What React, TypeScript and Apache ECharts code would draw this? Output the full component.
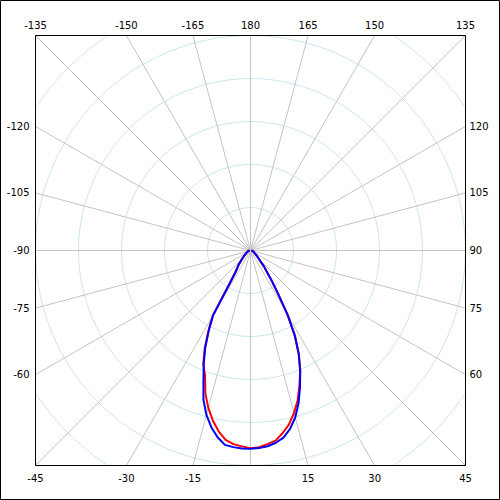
import React, { useEffect, useRef } from "react";
import * as echarts from "echarts";

// Angles (degrees, 0 = straight down, positive = right)
const angles = [
  -90, -75, -60, -50, -45, -40, -35, -32.5, -30, -27.5, -25, -22.5, -20, -17.5, -15, -12.5, -10, -7.5, -5, -2.5,
  0,
  2.5, 5, 7.5, 10, 12.5, 15, 17.5, 20, 22.5, 25, 27.5, 30, 32.5, 35, 40, 45, 50, 60, 75, 90,
];

const redValues = [
  2, 6, 12, 20, 29, 44, 62, 90, 177, 213, 252, 287, 309, 349, 379, 405, 427, 444, 452, 456,
  460,
  458, 452, 446, 431, 414, 391, 365, 333, 302, 266, 224, 174, 119, 87, 49, 28, 19, 10, 6, 2,
];

const blueValues = [
  2, 6, 10, 19, 27, 42, 59, 86, 174, 210, 249, 284, 320, 364, 396, 421, 441, 456, 459, 461,
  461,
  460, 457, 451, 442, 425, 402, 372, 337, 302, 265, 223, 172, 119, 86, 49, 27, 19, 10, 6, 2,
];

const topLabels = [-135, -150, -165, 180, 165, 150, 135];
const leftLabels = [-120, -105, -90, -75, -60];
const rightLabels = [120, 105, 90, 75, 60];
const bottomLabels = [-45, -30, -15, 15, 30, 45];

const ringStep = 100;
const halfBoxUnits = 500;
const radiusMax = 710;

export default function App() {
  const ref = useRef<HTMLDivElement>(null);

  useEffect(() => {
    const chart = echarts.init(ref.current!, null, { renderer: "svg" });
    const cx = 250.5;
    const cy = 250.5;
    const halfPx = 215;
    const pxPerUnit = halfPx / halfBoxUnits;

    chart.setOption({
      animation: false,
      backgroundColor: "#ffffff",
      polar: { center: [cx, cy], radius: radiusMax * pxPerUnit },
      angleAxis: {
        type: "value",
        min: -180,
        max: 180,
        interval: 15,
        startAngle: 90,
        clockwise: false,
        axisLine: { show: false },
        axisTick: { show: false },
        axisLabel: { show: false },
        splitLine: { show: true, lineStyle: { color: "#c4c4c4", width: 1 } },
      },
      radiusAxis: {
        type: "value",
        min: 0,
        max: radiusMax,
        interval: ringStep,
        axisLine: { show: false },
        axisTick: { show: false },
        axisLabel: { show: false },
        splitLine: { show: true, lineStyle: { color: "#cce6ee", width: 1 } },
      },
      series: [
        {
          name: "C0-C180",
          type: "line",
          coordinateSystem: "polar",
          showSymbol: false,
          symbol: "none",
          lineStyle: { color: "#ff0000", width: 2 },
          itemStyle: { color: "#ff0000" },
          data: angles.map((a, i) => [redValues[i], a]),
          z: 3,
        },
        {
          name: "C90-C270",
          type: "line",
          coordinateSystem: "polar",
          showSymbol: false,
          symbol: "none",
          lineStyle: { color: "#0000ff", width: 2 },
          itemStyle: { color: "#0000ff" },
          data: angles.map((a, i) => [blueValues[i], a]),
          z: 4,
        },
      ],
    });

    const toPx = (r: number, a: number): number[] => {
      const p = chart.convertToPixel({ seriesIndex: 0 }, [r, a]) as any;
      if (p && isFinite(p[0]) && isFinite(p[1])) return p;
      const rad = (a * Math.PI) / 180;
      return [cx + r * pxPerUnit * Math.sin(rad), cy + r * pxPerUnit * Math.cos(rad)];
    };

    const font = { fontFamily: "DejaVu Sans", fontSize: 10, fill: "#000" };
    const labels: any[] = [];
    topLabels.forEach((a) => {
      const rad = (a * Math.PI) / 180;
      const p = toPx(halfBoxUnits / Math.abs(Math.cos(rad)), a);
      labels.push({ type: "text", z: 120, x: p[0], y: 25.5, style: { ...font, text: String(a), align: "center", verticalAlign: "middle" } });
    });
    bottomLabels.forEach((a) => {
      const rad = (a * Math.PI) / 180;
      const p = toPx(halfBoxUnits / Math.abs(Math.cos(rad)), a);
      labels.push({ type: "text", z: 120, x: p[0], y: 478, style: { ...font, text: String(a), align: "center", verticalAlign: "middle" } });
    });
    leftLabels.forEach((a) => {
      const rad = (a * Math.PI) / 180;
      const p = toPx(halfBoxUnits / Math.abs(Math.sin(rad)), a);
      labels.push({ type: "text", z: 120, x: 29.5, y: p[1], style: { ...font, text: String(a), align: "right", verticalAlign: "middle" } });
    });
    rightLabels.forEach((a) => {
      const rad = (a * Math.PI) / 180;
      const p = toPx(halfBoxUnits / Math.abs(Math.sin(rad)), a);
      labels.push({ type: "text", z: 120, x: 469.5, y: p[1], style: { ...font, text: String(a), align: "left", verticalAlign: "middle" } });
    });

    const white = { fill: "#ffffff", stroke: "none" };
    chart.setOption({
      graphic: [
        { type: "rect", z: 100, shape: { x: 0, y: 0, width: 500, height: 35 }, style: white, silent: true },
        { type: "rect", z: 100, shape: { x: 0, y: 466, width: 500, height: 34 }, style: white, silent: true },
        { type: "rect", z: 100, shape: { x: 0, y: 0, width: 35, height: 500 }, style: white, silent: true },
        { type: "rect", z: 100, shape: { x: 466, y: 0, width: 34, height: 500 }, style: white, silent: true },
        { type: "rect", z: 110, shape: { x: 35.5, y: 35.5, width: 430, height: 430 }, style: { fill: "none", stroke: "#000", lineWidth: 1 }, silent: true },
        { type: "rect", z: 110, shape: { x: 0.5, y: 0.5, width: 499, height: 499 }, style: { fill: "none", stroke: "#000", lineWidth: 1 }, silent: true },
        ...labels,
      ],
    });

    return () => chart.dispose();
  }, []);

  return <div ref={ref} style={{ position: "absolute", left: 0, top: 0, width: 500, height: 500 }} />;
}
